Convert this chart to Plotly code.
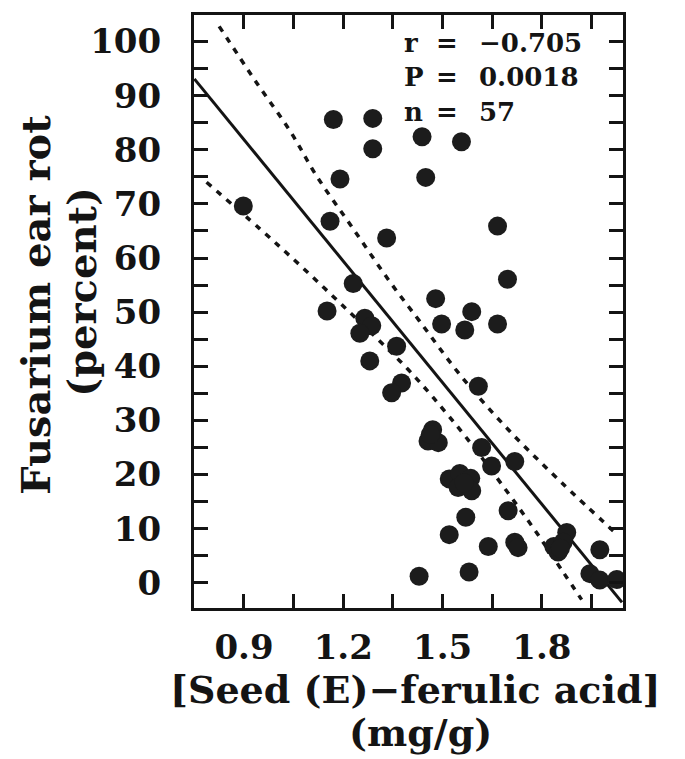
import plotly.graph_objects as go

# ---- data ----
acid = [1.170, 1.289, 1.289, 1.190, 0.898, 1.438, 1.557, 1.449, 1.160, 1.331,
        1.230, 1.151, 1.265, 1.286, 1.250, 1.361, 1.280, 1.376, 1.346, 1.666,
        1.696, 1.479, 1.588, 1.497, 1.567, 1.666, 1.608, 1.470, 1.456, 1.487,
        1.618, 1.648, 1.718, 1.520, 1.552, 1.585, 1.547, 1.588, 1.698, 1.570,
        1.875, 1.520, 1.638, 1.718, 1.728, 1.836, 1.864, 1.849, 1.975, 1.429,
        1.580, 1.945, 1.975, 2.026, 1.565, 1.463, 1.856]
rot = [85.6, 85.8, 80.2, 74.6, 69.6, 82.4, 81.5, 74.9, 66.8, 63.7,
       55.3, 50.2, 48.9, 47.5, 46.1, 43.7, 41.0, 36.9, 35.1, 65.9,
       56.1, 52.5, 50.1, 47.8, 46.7, 47.8, 36.3, 28.3, 26.2, 25.9,
       25.0, 21.6, 22.4, 19.2, 20.2, 19.3, 17.6, 17.0, 13.3, 12.1,
       9.3, 8.9, 6.7, 7.5, 6.5, 6.7, 7.5, 5.7, 6.1, 1.2,
       2.0, 1.7, 0.5, 0.6, 18.5, 27.4, 6.4]

fit_x = [0.75, 2.042]
fit_y = [93.1, -3.6]

upper_x = [0.825, 0.938, 1.039, 1.119, 1.230, 1.341, 1.431, 1.557, 1.703, 1.860, 2.026]
upper_y = [102.8, 92.4, 83.5, 75.2, 65.4, 55.6, 48.3, 38.1, 28.0, 18.5, 9.0]
lower_x = [0.787, 0.948, 1.074, 1.195, 1.316, 1.396, 1.472, 1.572, 1.693, 1.779, 1.864, 1.920]
lower_y = [74.0, 65.4, 58.4, 51.4, 44.3, 39.4, 34.2, 26.8, 17.0, 9.7, 2.0, -3.1]

x_tickvals = [0.9, 1.05, 1.2, 1.35, 1.5, 1.65, 1.8, 1.95]
x_ticktext = ["0.9", "", "1.2", "", "1.5", "", "1.8", ""]
y_tickvals = list(range(0, 101, 5))
y_ticktext = [str(v) if v % 10 == 0 else "" for v in y_tickvals]

stat_names = ["r", "P", "n"]
stat_values = ["\u22120.705", "0.0018", "57"]

x_title = "[Seed (E)\u2212ferulic acid]"
x_title2 = "(mg/g)"
y_title = "Fusarium ear rot"
y_title2 = "(percent)"

FONT = "DejaVu Serif"
INK = "#141414"

fig = go.Figure()
fig.add_trace(go.Scatter(x=upper_x, y=upper_y, mode="lines", line_shape="spline",
                         line=dict(color=INK, width=3.5, dash="6px,7px"), showlegend=False))
fig.add_trace(go.Scatter(x=lower_x, y=lower_y, mode="lines", line_shape="spline",
                         line=dict(color=INK, width=3.5, dash="6px,7px"), showlegend=False))
fig.add_trace(go.Scatter(x=fit_x, y=fit_y, mode="lines",
                         line=dict(color=INK, width=3), showlegend=False))
fig.add_trace(go.Scatter(x=acid, y=rot, mode="markers",
                         marker=dict(size=19, color="#1c1c1c", line=dict(width=0)),
                         showlegend=False))

axis_common = dict(showline=True, linewidth=3, linecolor=INK, mirror="ticks",
                   ticks="inside", ticklen=14, tickwidth=3, tickcolor=INK,
                   showgrid=False, zeroline=False,
                   tickfont=dict(family=FONT, size=34, color=INK, weight="bold"))

fig.update_layout(
    width=685, height=759,
    margin=dict(l=194, r=62, t=12, b=151),
    paper_bgcolor="white", plot_bgcolor="white",
    xaxis=dict(range=[0.749, 2.045], tickvals=x_tickvals, ticktext=x_ticktext,
               ticklabelstandoff=7, **axis_common),
    yaxis=dict(range=[-4.65, 104.9], tickvals=y_tickvals, ticktext=y_ticktext,
               ticklabelstandoff=23, **axis_common),
)

stat_y = [99.7, 93.4, 86.9]
for name, val, yy in zip(stat_names, stat_values, stat_y):
    f = dict(family=FONT, size=26, color=INK, weight="bold")
    fig.add_annotation(x=1.377, y=yy, xref="x", yref="y", text=name, showarrow=False,
                       xanchor="left", yanchor="middle", font=f)
    fig.add_annotation(x=1.513, y=yy, xref="x", yref="y", text="=", showarrow=False,
                       xanchor="center", yanchor="middle", font=f)
    fig.add_annotation(x=1.605, y=yy, xref="x", yref="y", text=val, showarrow=False,
                       xanchor="left", yanchor="middle", font=f)

tf = dict(family=FONT, size=38, color=INK, weight="bold")
tf_y = dict(family=FONT, size=40, color=INK, weight="bold")
fig.add_annotation(x=(415 - 194) / 429, y=(607.8 - 690) / 596, xref="paper", yref="paper",
                   text=x_title, showarrow=False, xanchor="center", yanchor="middle", font=tf)
fig.add_annotation(x=(420 - 194) / 429, y=(607.8 - 733) / 596, xref="paper", yref="paper",
                   text=x_title2, showarrow=False, xanchor="center", yanchor="middle", font=tf)
fig.add_annotation(x=(36 - 194) / 429, y=(607.8 - 303) / 596, xref="paper", yref="paper",
                   text=y_title, showarrow=False, textangle=-90, xanchor="center",
                   yanchor="middle", font=tf_y)
fig.add_annotation(x=(82 - 194) / 429, y=(607.8 - 290) / 596, xref="paper", yref="paper",
                   text=y_title2, showarrow=False, textangle=-90, xanchor="center",
                   yanchor="middle", font=tf_y)

fig.write_html("out.html", config={"displayModeBar": False},
               post_script="document.body.style.margin='0';document.body.style.overflow='hidden';")
